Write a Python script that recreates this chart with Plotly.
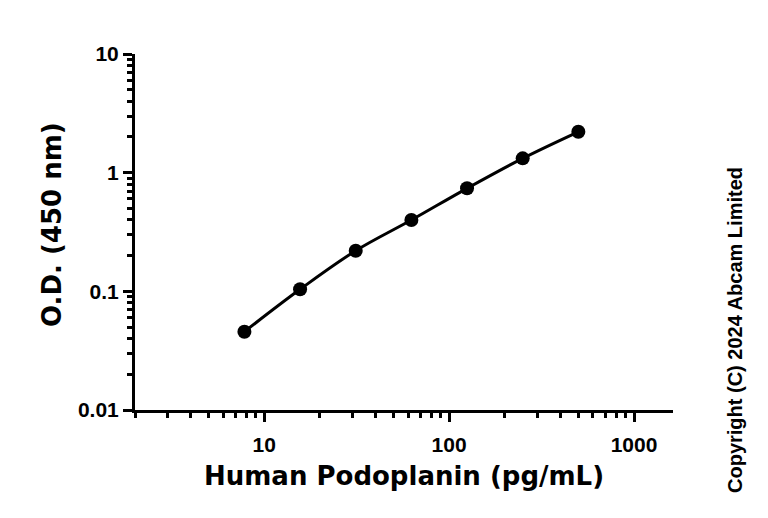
import plotly.graph_objects as go

concentration = [7.8125, 15.625, 31.25, 62.5, 125, 250, 500]
od450 = [0.0457, 0.104, 0.220, 0.399, 0.738, 1.32, 2.21]

x_ticks = [10, 100, 1000]
x_tick_labels = ["10", "100", "1000"]
y_ticks = [0.01, 0.1, 1, 10]
y_tick_labels = ["0.01", "0.1", "1", "10"]
x_minor = [m * d for d in (1, 10, 100, 1000) for m in range(2, 10) if 2 <= m * d <= 1600]
y_minor = [m * d for d in (0.01, 0.1, 1) for m in range(2, 10)]

W, H = 768, 518
OFF = 8  # page body offset
L, R, T, B = 135 - OFF, W - (673 - OFF), 54 - OFF, H - (410 - OFF)
PW, PH = W - L - R, H - T - B


def paper(px, py):
    return (px - OFF - L) / PW, (H - B - (py - OFF)) / PH


title_font = dict(family="DejaVu Sans, sans-serif", size=26, color="black", weight="bold")
tick_font = dict(family="Liberation Sans, Arial, sans-serif", size=21, color="black", weight="bold")

fig = go.Figure()
fig.add_trace(go.Scatter(
    x=concentration, y=od450, mode="lines+markers",
    line=dict(color="black", width=3, shape="spline"),
    marker=dict(color="black", size=14),
    showlegend=False,
))

xt = paper(404, 476)
yt = paper(52, 225)
ct = paper(735, 330)

fig.update_layout(
    width=W, height=H,
    margin=dict(l=L, r=R, t=T, b=B, autoexpand=False),
    plot_bgcolor="white", paper_bgcolor="white",
    xaxis=dict(
        type="log", range=[0.30103, 3.2109],
        tickvals=x_ticks, ticktext=x_tick_labels,
        ticks="outside", ticklen=9, tickwidth=3, tickcolor="black",
        minor=dict(tickvals=x_minor, ticks="outside", ticklen=5, tickwidth=2.5, tickcolor="black"),
        showline=True, linecolor="black", linewidth=3,
        showgrid=False, zeroline=False,
        tickfont=tick_font, ticklabelstandoff=5,
    ),
    yaxis=dict(
        type="log", range=[-2, 1],
        tickvals=y_ticks, ticktext=y_tick_labels,
        ticks="outside", ticklen=9, tickwidth=3, tickcolor="black",
        minor=dict(tickvals=y_minor, ticks="outside", ticklen=5, tickwidth=2.5, tickcolor="black"),
        showline=True, linecolor="black", linewidth=3,
        showgrid=False, zeroline=False,
        tickfont=tick_font, ticklabelstandoff=0,
    ),
    annotations=[
        dict(text="Human Podoplanin (pg/mL)", x=xt[0], y=xt[1], xref="paper", yref="paper",
             showarrow=False, xanchor="center", yanchor="middle", font=title_font),
        dict(text="O.D. (450 nm)", x=yt[0], y=yt[1], xref="paper", yref="paper",
             showarrow=False, textangle=-90, xanchor="center", yanchor="middle", font=title_font),
        dict(text="Copyright (C) 2024 Abcam Limited", x=ct[0], y=ct[1], xref="paper", yref="paper",
             showarrow=False, textangle=-90, xanchor="center", yanchor="middle",
             font=dict(family="Liberation Sans, Arial, sans-serif", size=20, color="black", weight="bold")),
    ],
)

fig.write_html("out.html")
